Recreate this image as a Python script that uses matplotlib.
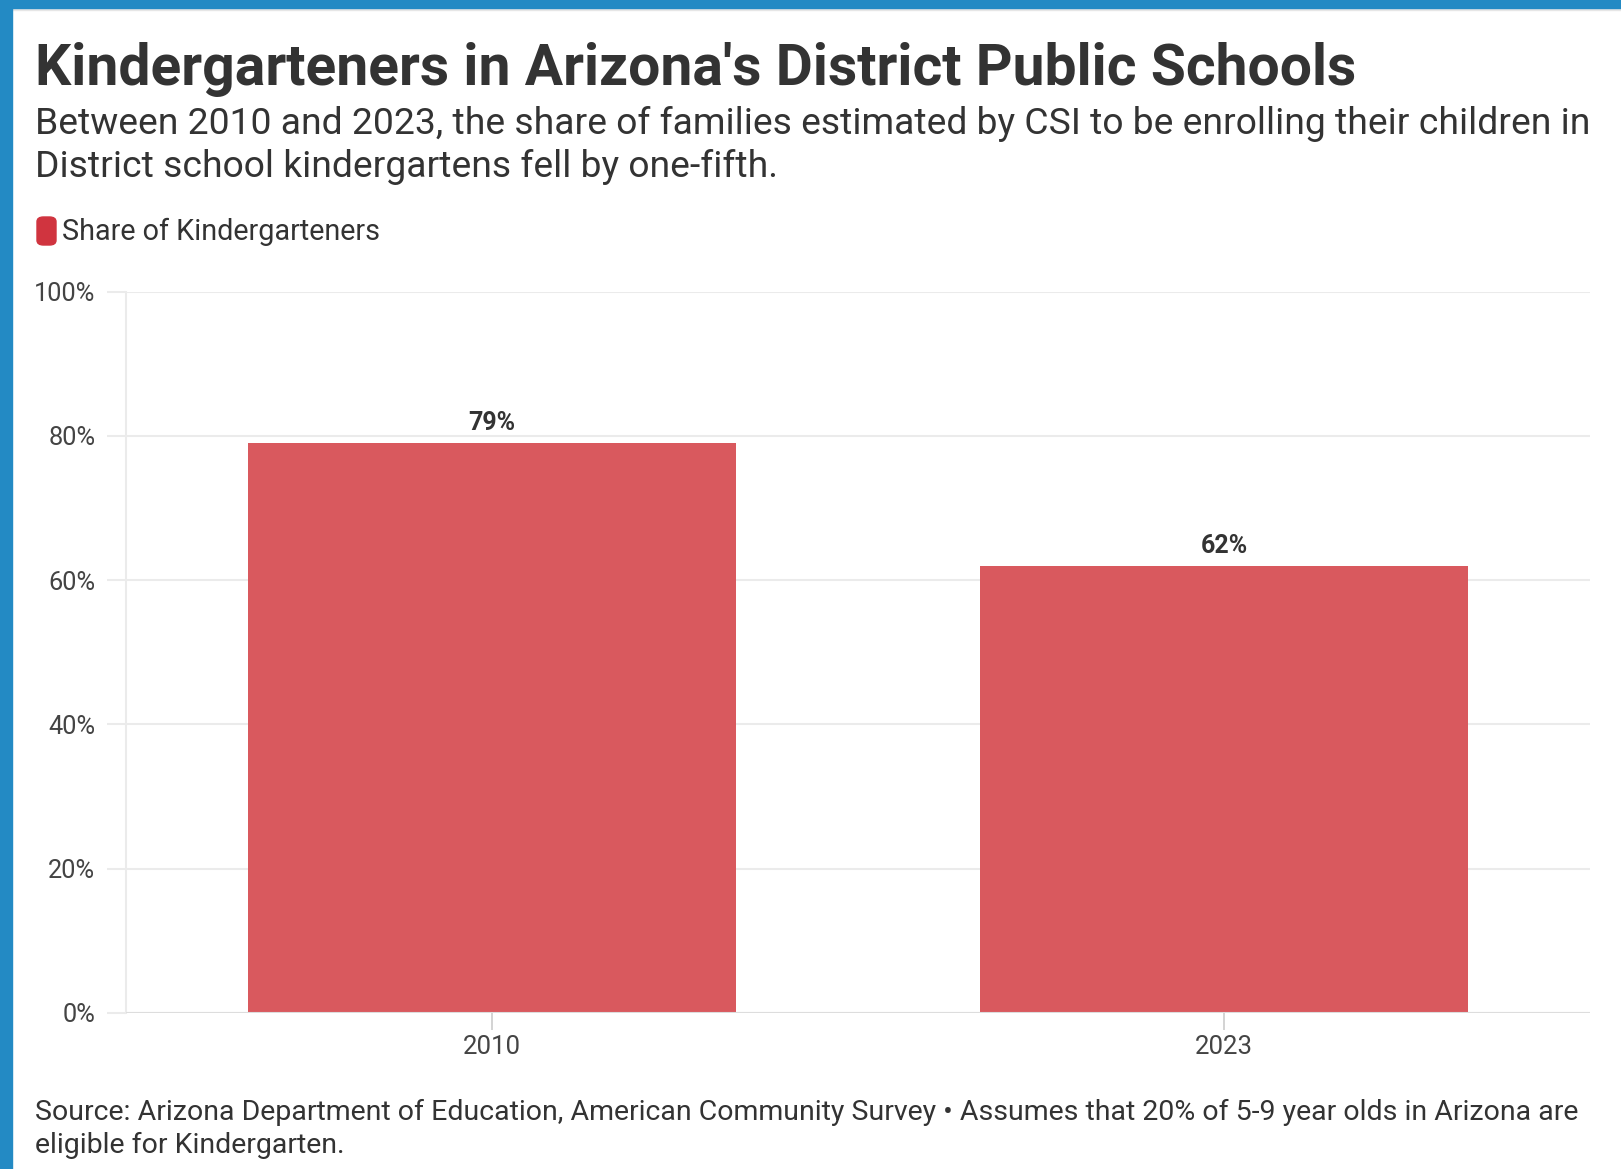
import matplotlib
matplotlib.use("Agg")
import matplotlib.pyplot as plt
from matplotlib.patches import FancyBboxPatch, Rectangle

years = ["2010", "2023"]
share = [79, 62]
yticks = [0, 20, 40, 60, 80, 100]

BAR = "#d9595e"
TXT = "#333333"
GRID = "#ebebeb"
BLUE = "#238ac4"
W, H = 1621, 1169

plt.rcParams["font.family"] = ["Roboto", "DejaVu Sans"]
fig = plt.figure(figsize=(W / 100, H / 100), dpi=100)

# frame: blue bars top and left, thin grey under the top bar
fig.patches.append(Rectangle((0, 1 - 8 / H), 1, 8 / H, transform=fig.transFigure, color=BLUE, zorder=5))
fig.patches.append(Rectangle((0, 0), 12 / W, 1, transform=fig.transFigure, color=BLUE, zorder=5))
fig.patches.append(Rectangle((12 / W, 1 - 10 / H), 1, 2 / H, transform=fig.transFigure, color="#e6e6e6", zorder=4))

ax = fig.add_axes([126 / W, 1 - 1013 / H, (1590 - 126) / W, (1013 - 291.5) / H])
x = range(len(years))
ax.bar(x, share, width=0.667, color=BAR, zorder=3)
for xi, v in zip(x, share):
    ax.text(xi, v + 1.1, f"{v}%", ha="center", va="bottom", fontsize=18, fontweight="bold", color=TXT)

ax.set_xlim(-0.5, 1.5)
ax.set_ylim(0, 100)
ax.set_yticks(yticks)
ax.set_yticklabels([f"{t}%" for t in yticks])
ax.set_xticks(list(x))
ax.set_xticklabels(years)
ax.grid(axis="y", color=GRID, linewidth=1.5, zorder=0)
for s in ["top", "right", "bottom"]:
    ax.spines[s].set_visible(False)
ax.spines["left"].set_color(GRID)
ax.spines["left"].set_linewidth(1.5)
ax.tick_params(axis="y", length=14, width=1.5, color=GRID, pad=8, labelsize=18.3, labelcolor="#444444")
ax.tick_params(axis="x", length=12, width=1.2, color="#cccccc", pad=4, labelsize=18.5, labelcolor="#444444")
ax.axhline(0, color="#dddddd", linewidth=1.5, zorder=4)

fig.text(35 / W, 1 - 85 / H, "Kindergarteners in Arizona's District Public Schools",
         fontsize=41, fontweight="bold", color=TXT, va="baseline")
fig.text(35 / W, 1 - 134 / H,
         "Between 2010 and 2023, the share of families estimated by CSI to be enrolling their children in",
         fontsize=26.8, color=TXT, va="baseline")
fig.text(35 / W, 1 - 177 / H, "District school kindergartens fell by one-fifth.",
         fontsize=26.8, color=TXT, va="baseline")

fig.patches.append(FancyBboxPatch((37 / W, 1 - 245 / H), 19 / W, 28 / H,
                                  boxstyle="round,pad=0,rounding_size=0.004",
                                  transform=fig.transFigure, color="#d0343f"))
fig.text(62 / W, 1 - 240 / H, "Share of Kindergarteners", fontsize=20.7, color=TXT, va="baseline")

fig.text(35 / W, 1 - 1120 / H,
         "Source: Arizona Department of Education, American Community Survey \u2022 Assumes that 20% of 5-9 year olds in Arizona are",
         fontsize=20.5, color=TXT, va="baseline")
fig.text(35 / W, 1 - 1153 / H, "eligible for Kindergarten.", fontsize=20.5, color=TXT, va="baseline")

fig.savefig("out.png", dpi=100)
